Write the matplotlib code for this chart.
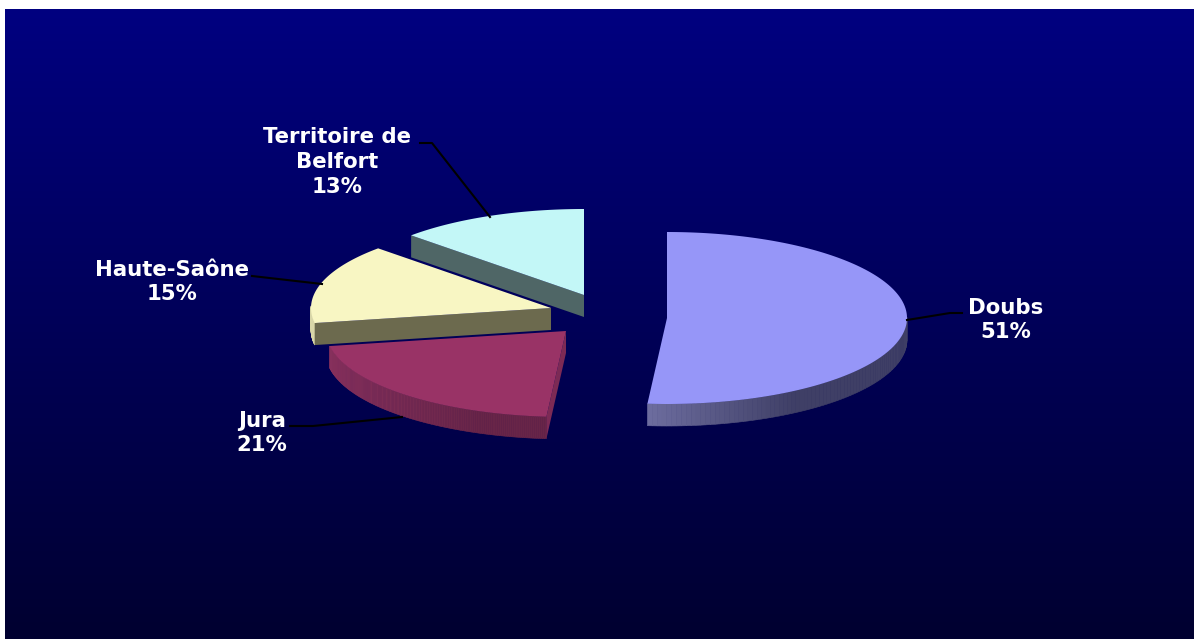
from matplotlib import pyplot as plt
from matplotlib.patches import Polygon
from matplotlib.colors import to_rgb
import numpy as np

names = ["Doubs", "Jura", "Haute-Saône", "Territoire de\nBelfort"]
shares = [51.3, 20.9, 15.0, 12.8]

top_colors = ["#9696f8", "#993366", "#f8f6c3", "#c3f7f7"]
rim_light = ["#6e6ea0", "#86305c", "#d8d6a8", "#4f6666"]
rim_dark = ["#3f3f66", "#682548", "#d8d6a8", "#4f6666"]
cut_colors = ["#3f3f66", "#7c2a55", "#6c6a4e", "#4f6666"]

# pie geometry in pixels, each slice has its own exploded centre
centers = [(667, 318), (566, 331), (551, 308), (584, 295)]
rx, ry, depth = 240, 86, 22

label_pos = [(1006, 320), (262, 433), (172, 282), (337, 162)]
leaders = [
    [(907, 320), (950, 313), (962, 313)],
    [(290, 426), (313, 426), (402, 417)],
    [(252, 276), (322, 284)],
    [(420, 143), (432, 143), (490, 217)],
]


def arc_xy(c, a):
    # a is clockwise from 12 o'clock, in degrees
    r = np.radians(a)
    return c[0] + rx * np.sin(r), c[1] - ry * np.cos(r)


fig = plt.figure(figsize=(11.94, 6.39), dpi=100, facecolor="white")
ax = fig.add_axes([0, 0, 1, 1])
ax.set_xlim(0, 1194)
ax.set_ylim(639, 0)
ax.axis("off")

grad = np.linspace(0, 1, 256)[:, None, None]
bg = (1 - grad) * np.array([0, 0, 128]) / 255 + grad * np.array([0, 0, 48]) / 255
ax.imshow(bg, extent=(5, 1194, 639, 9), aspect="auto", zorder=0)

edges = np.concatenate([[0], np.cumsum(shares)]) * 3.6
for i in range(len(shares)):
    c, a0, a1 = centers[i], edges[i], edges[i + 1]
    z = 2 + i
    angles = np.linspace(a0, a1, 160)
    xs, ys = arc_xy(c, angles)

    # radial cut face, Doubs hides its own
    if i > 0:
        ex, ey = arc_xy(c, a0)
        ax.add_patch(Polygon([c, (ex, ey), (ex, ey + depth), (c[0], c[1] + depth)],
                             fc=cut_colors[i], ec="none", zorder=z + 0.2))

    # outer rim, strips so that the shade can change along it
    low = np.array(to_rgb(rim_light[i]))
    high = np.array(to_rgb(rim_dark[i]))
    for k in range(len(angles) - 1):
        if np.cos(np.radians(angles[k])) > 0.02:
            continue
        t = np.clip((xs[k] - xs.min()) / 150.0, 0, 1)
        col = low + (high - low) * t
        ax.add_patch(Polygon([(xs[k], ys[k]), (xs[k + 1], ys[k + 1]),
                              (xs[k + 1], ys[k + 1] + depth), (xs[k], ys[k] + depth)],
                             fc=col, ec=col, lw=0.4, zorder=z + 0.1))

    # top face
    ax.add_patch(Polygon(np.vstack([[c], np.column_stack([xs, ys])]),
                         fc=top_colors[i], ec="none", zorder=z + 0.5))

for name, share, pos, pts in zip(names, shares, label_pos, leaders):
    ax.plot(*zip(*pts), color="black", lw=1.5, zorder=10)
    ax.text(pos[0], pos[1], f"{name}\n{round(share)}%", color="white",
            family="DejaVu Sans", weight="bold", fontsize=15.3, ha="center", va="center",
            linespacing=1.3, zorder=11)

fig.savefig("out.png", dpi=100, facecolor="white")
